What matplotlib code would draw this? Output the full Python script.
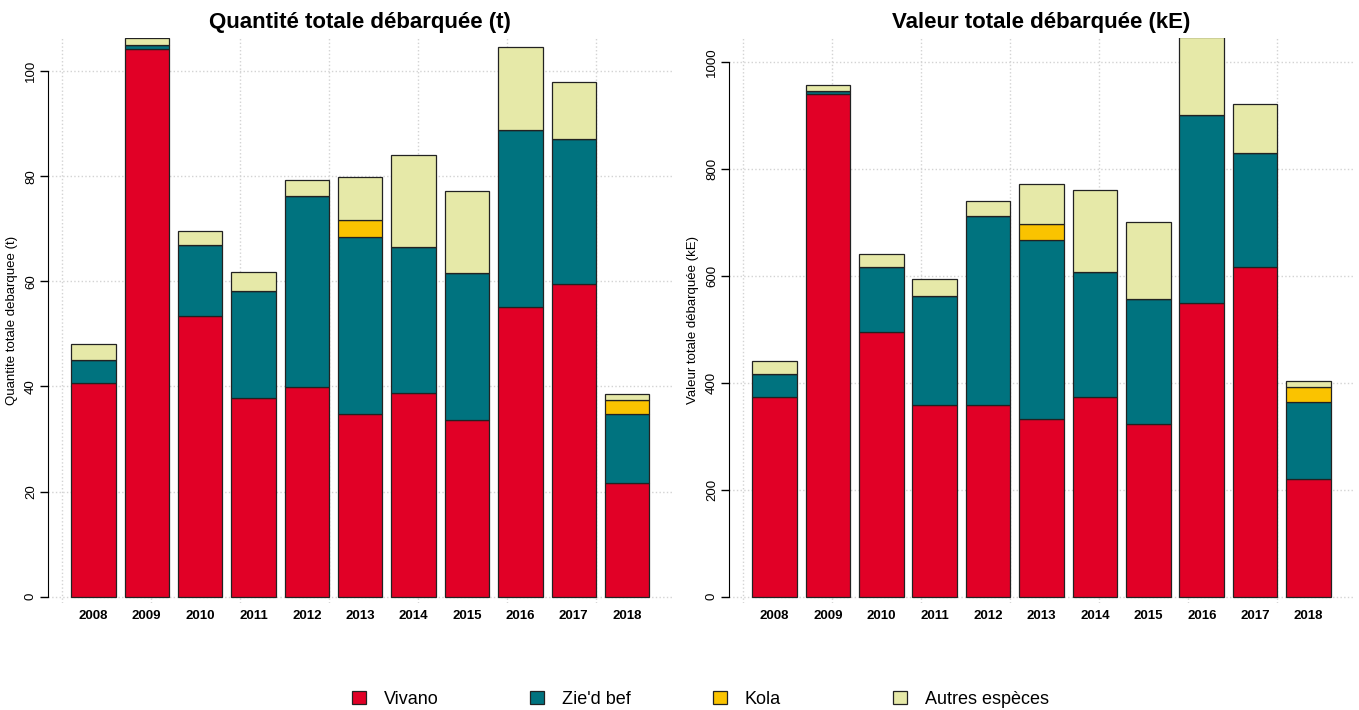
import numpy as np
import matplotlib.pyplot as plt
from matplotlib.patches import Patch

plt.rcParams['font.family'] = ['Liberation Sans', 'DejaVu Sans']

# Données
annees = ['2008', '2009', '2010', '2011', '2012', '2013', '2014', '2015', '2016', '2017', '2018']
especes = ['Vivano', "Zie'd bef", 'Kola', 'Autres espèces']
couleurs = ['#E10026', '#00737F', '#FAC300', '#E6E9A8']

# Quantité (t)
vivano_t = [40.6, 104.2, 53.4, 37.8, 39.9, 34.7, 38.8, 33.6, 55.1, 59.4, 21.6]
zied_t = [4.5, 0.7, 13.6, 20.4, 36.4, 33.7, 27.7, 28.0, 33.7, 27.6, 13.1]
kola_t = [0, 0, 0, 0, 0, 3.2, 0, 0, 0, 0, 2.7]
autres_t = [2.9, 1.4, 2.5, 3.6, 3.0, 8.2, 17.5, 15.5, 15.7, 11.0, 1.1]

# Valeur (kE)
vivano_v = [373, 940, 495, 358, 358, 332, 373, 322, 549, 617, 220]
zied_v = [43, 5, 121, 204, 354, 335, 235, 234, 352, 213, 144]
kola_v = [0, 0, 0, 0, 0, 30, 0, 0, 0, 0, 28]
autres_v = [25, 12, 25, 33, 28, 74, 152, 144, 146, 91, 11]

W, H = 1359, 710
fig = plt.figure(figsize=(W / 100, H / 100), dpi=100)

def px(x0, y0, x1, y1):
    # rectangle en pixels -> fraction de figure
    return [x0 / W, 1 - y1 / H, (x1 - x0) / W, (y1 - y0) / H]

def barres(ax, series, titre, ylab, ylim, yticks):
    x = np.arange(len(annees)) * 1.2 + 0.7  # comme barplot() de R
    bas = np.zeros(len(annees))
    for vals, c in zip(series, couleurs):
        vals = np.array(vals, dtype=float)
        ax.bar(x, vals, width=1, bottom=bas, color=c, edgecolor='#222222', linewidth=0.9, zorder=3)
        bas += vals
    ax.set_xlim(-0.32, 13.72)
    ax.set_ylim(*ylim)
    ax.set_xticks(x)
    ax.set_xticklabels(annees, fontsize=9.5, fontweight='bold')
    ax.set_xticks(np.arange(0, 13, 2), minor=True)
    ax.tick_params(axis='x', which='both', length=0, pad=5)
    ax.set_yticks(yticks)
    ax.tick_params(axis='y', length=6, width=1, labelsize=9.5, pad=2)
    plt.setp(ax.get_yticklabels(), rotation=90, va='center')
    ax.grid(True, which='minor', axis='x', color='#D3D3D3', linestyle=':', linewidth=1, zorder=0)
    ax.grid(True, which='major', axis='y', color='#D3D3D3', linestyle=':', linewidth=1, zorder=0)
    for s in ['top', 'right', 'bottom']:
        ax.spines[s].set_visible(False)
    ax.spines['left'].set_bounds(yticks[0], yticks[-1])
    ax.set_ylabel(ylab, fontsize=9.5, labelpad=5)
    ax.set_title(titre, fontsize=16, fontweight='bold', pad=7)

ax1 = fig.add_axes(px(48, 38, 672.5, 603))
barres(ax1, [vivano_t, zied_t, kola_t, autres_t], 'Quantité totale débarquée (t)',
       'Quantite totale debarquee (t)', (-1.2, 106.3), [0, 20, 40, 60, 80, 100])

ax2 = fig.add_axes(px(729, 38, 1354, 603))
barres(ax2, [vivano_v, zied_v, kola_v, autres_v], 'Valeur totale débarquée (kE)',
       'Valeur totale débarquée (kE)', (-12, 1045), [0, 200, 400, 600, 800, 1000])

# Légende (une entrée par colonne, espacement fixe comme R)
leg_x = [352, 530, 713, 893]
for nom, c, xl in zip(especes, couleurs, leg_x):
    fig.legend(handles=[Patch(facecolor=c, edgecolor='#222222', linewidth=0.9)], labels=[nom],
               loc='center left', bbox_to_anchor=(xl / W, 1 - 699 / H), frameon=False,
               fontsize=13, handlelength=0.75, handleheight=0.75, handletextpad=1.0,
               borderpad=0, borderaxespad=0)

fig.savefig('out.png', dpi=100)
